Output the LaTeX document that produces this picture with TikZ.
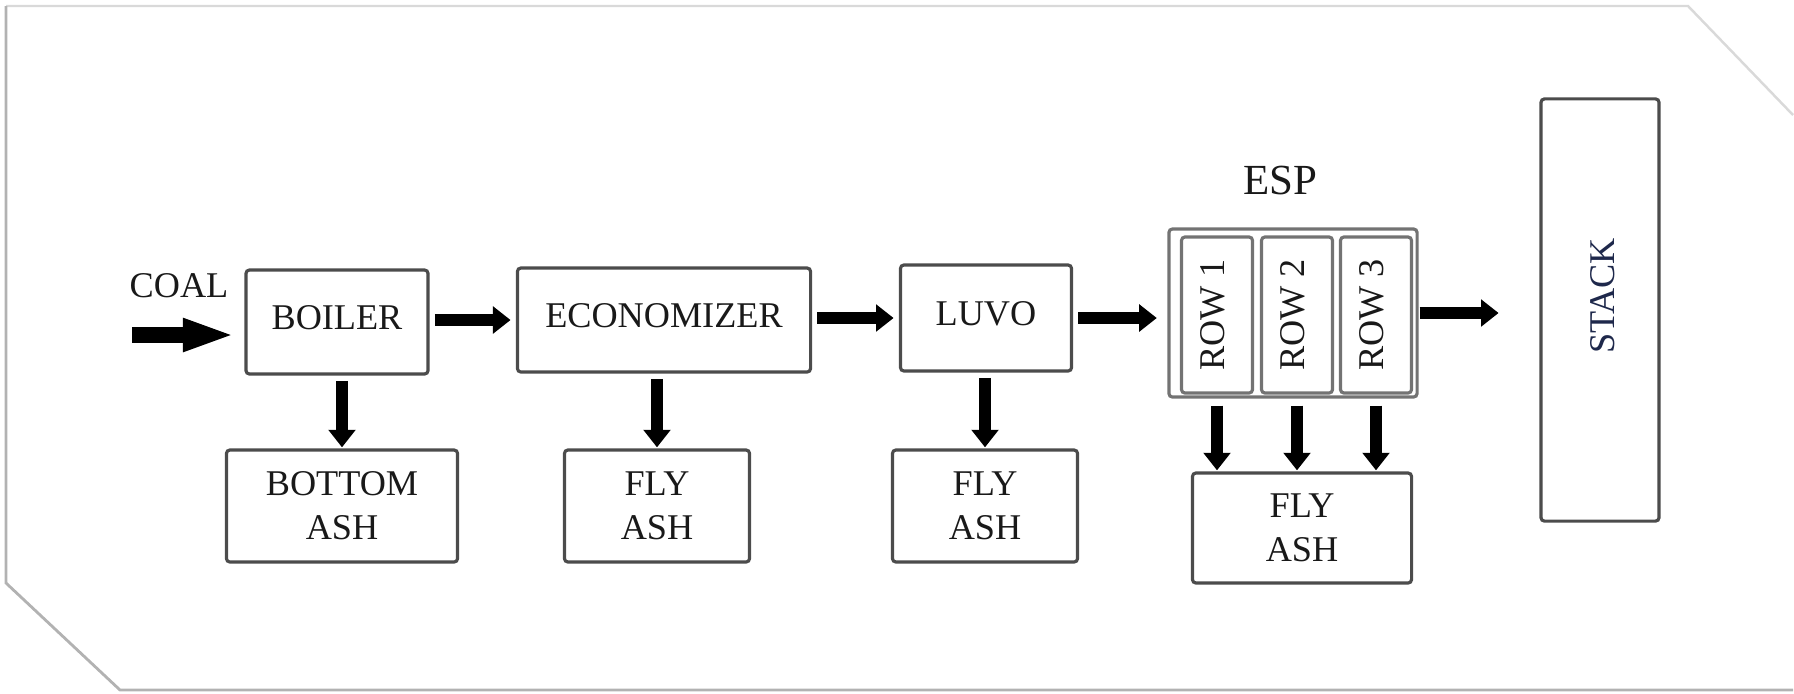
\documentclass[tikz,border=0pt]{standalone}
\usepackage{fontspec}
\setmainfont{Liberation Serif}
\usetikzlibrary{arrows.meta}
\newcommand\boxfont{\fontsize{10.3}{12.5}\selectfont}

\begin{document}
\begin{tikzpicture}[x=0.01cm, y=-0.01cm, >={Triangle[width=7.5pt,length=5pt]},
    box/.style={draw=black!70, line width=0.9pt, rounded corners=1pt, text=black!90, font=\boxfont, align=center, inner sep=0pt},
    rowbox/.style={box, draw=black!55, rotate=90, text depth=2.5pt, minimum width=1.56cm, minimum height=0.71cm},
    flow/.style={->, line width=3.4pt, shorten <=1.5pt, shorten >=1.5pt}]
\useasboundingbox (0,0) rectangle (1794,693);
\draw[gray!30, line width=0.7pt] (1793,115)--(1688,6)--(6,6);
\draw[gray!60, line width=0.8pt] (6,6)--(6,583)--(120,690)--(1793,690);

\node[box, text depth=2.8pt, minimum width=1.82cm, minimum height=1.04cm] (boiler) at (337,322) {BOILER};
\node[box, text depth=2.8pt, minimum width=2.93cm, minimum height=1.04cm] (econ) at (664,320) {ECONOMIZER};
\node[box, text depth=2.8pt, minimum width=1.71cm, minimum height=1.06cm] (luvo) at (986,318) {LUVO};
\node[box, draw=black!55, minimum width=2.48cm, minimum height=1.68cm] (esp) at (1293,313) {};
\node[rowbox] (row1) at (1217,315) {ROW 1};
\node[rowbox] (row2) at (1297,315) {ROW 2};
\node[rowbox] (row3) at (1376,315) {ROW 3};
\node[text=black!90, font=\fontsize{12.2}{14}\selectfont] (esplabel) at (1280,180) {ESP};
\node[box, minimum width=1.18cm, minimum height=4.22cm] (stack) at (1600,310) {};
\node[rotate=90, font=\boxfont, text={rgb,255:red,30;green,40;blue,75}] (stacklabel) at (1603,296) {STACK};

\node[box, minimum width=2.31cm, minimum height=1.12cm] (bash) at (342,506) {BOTTOM\\ASH};
\node[box, minimum width=1.85cm, minimum height=1.12cm] (fa1) at (657,506) {FLY\\ASH};
\node[box, minimum width=1.85cm, minimum height=1.12cm] (fa2) at (985,506) {FLY\\ASH};
\node[box, minimum width=2.19cm, minimum height=1.10cm] (fa3) at (1302,528) {FLY\\ASH};

\node[text=black!90, font=\boxfont] (coal) at (179,286) {COAL};
\coordinate (coalin) at (132,335);
\draw[line width=4.5pt, -{Triangle[width=8.5pt,length=15pt]}, shorten >=2.5pt] (coalin) -- (coalin -| boiler.west);

\draw[flow] (econ.west -| boiler.east) -- (econ.west);
\draw[flow] (luvo.west -| econ.east) -- (luvo.west);
\draw[flow, shorten >=3pt] (luvo.east) -- (luvo.east -| esp.west);
\draw[flow, shorten <=0.3pt, shorten >=11.6pt] (esp.east) -- (esp.east -| stack.west);

\draw[flow, shorten >=0.3pt] (bash.north |- boiler.south) -- (bash.north);
\draw[flow, shorten >=0.3pt] (fa1.north |- econ.south) -- (fa1.north);
\draw[flow, shorten >=0.3pt] (fa2.north |- luvo.south) -- (fa2.north);
\foreach \r in {1,2,3}
{
    \draw[flow, shorten <=2pt, shorten >=0.3pt] (row\r |- esp.south) -- (row\r |- fa3.north);
}
\end{tikzpicture}
\end{document}
